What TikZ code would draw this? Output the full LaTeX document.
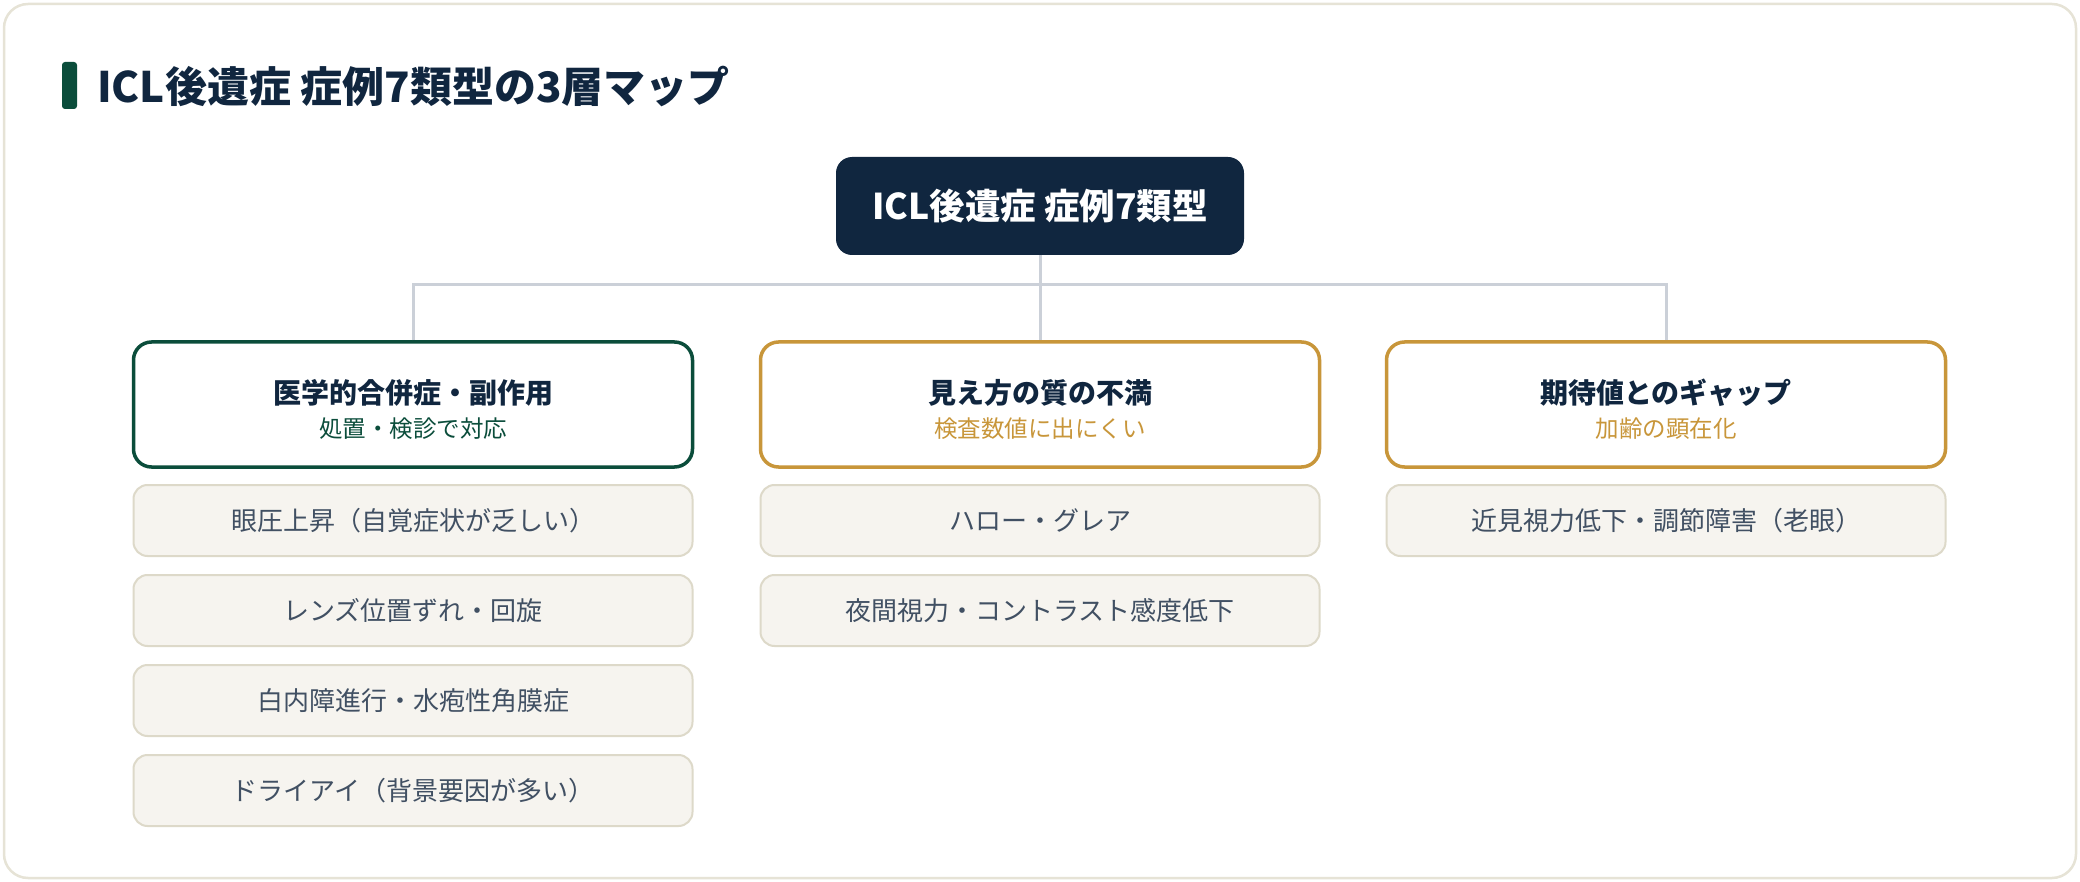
\documentclass[tikz,border=0pt]{standalone}
\usepackage{fontspec}
\setmainfont{Noto Sans CJK JP}
\definecolor{navy}{HTML}{10263F}
\definecolor{dgreen}{HTML}{0B4D3B}
\definecolor{gold}{HTML}{C8963A}
\definecolor{linegray}{HTML}{CBD0D8}
\definecolor{itemfill}{HTML}{F6F4EF}
\definecolor{itemdraw}{HTML}{DDD9C9}
\definecolor{itemtext}{HTML}{415063}
\definecolor{frame}{HTML}{E6E3D6}
\tikzset{
  rootbox/.style={draw=none, fill=navy, rounded corners=16pt, minimum width=408pt, minimum height=98pt, inner sep=0pt,
    text=white, font=\fontsize{35.5}{42}\selectfont\bfseries},
  catbox/.style={fill=white, line width=3.5pt, rounded corners=18pt, minimum width=559pt, minimum height=125pt,
    inner sep=0pt, align=center},
  itembox/.style={fill=itemfill, draw=itemdraw, line width=2pt, rounded corners=14pt, minimum width=559pt,
    minimum height=71pt, inner sep=0pt, text=itemtext, font=\fontsize{26}{30}\selectfont},
  conn/.style={draw=linegray, line width=3pt},
}
\newcommand{\cattext}[3]{{\fontsize{28}{36}\selectfont\bfseries\color{navy}\rule{0pt}{34pt}#1}\\[11pt]{\fontsize{23.5}{28}\selectfont\color{#3}#2}}
\begin{document}
\begin{tikzpicture}[x=1pt,y=-1pt]
\useasboundingbox (0,0) rectangle (2080,882);
\draw[frame, fill=white, line width=2.5pt, rounded corners=24pt] (4,4) rectangle (2076,878);
% title
\fill[dgreen, rounded corners=3pt] (62,62) rectangle (77,109);
\node[anchor=west, inner sep=0pt, text=navy, font=\fontsize{42}{50}\selectfont\bfseries] (title) at (97,87) {ICL後遺症 症例7類型の3層マップ};
% root
\node[rootbox] (root) at (1040,206) {ICL後遺症 症例7類型};
% categories
\node[catbox, draw=dgreen] (c1) at (413,404.5) {\cattext{医学的合併症・副作用}{処置・検診で対応}{dgreen}};
\node[catbox, draw=gold] (c2) at (1040,404.5) {\cattext{見え方の質の不満}{検査数値に出にくい}{gold}};
\node[catbox, draw=gold] (c3) at (1666,404.5) {\cattext{期待値とのギャップ}{加齢の顕在化}{gold}};
% connectors
\coordinate (hub) at (1040,285);
\draw[conn] (root.south) -- (hub) -- (c2.north);
\draw[conn] (c1.north) |- (hub) -| (c3.north);
% items
\node[itembox] (a1) at (413,520.5) {眼圧上昇（自覚症状が乏しい）};
\node[itembox] (a2) at (413,610.5) {レンズ位置ずれ・回旋};
\node[itembox] (a3) at (413,700.5) {白内障進行・水疱性角膜症};
\node[itembox] (a4) at (413,790.5) {ドライアイ（背景要因が多い）};
\node[itembox] (b1) at (1040,520.5) {ハロー・グレア};
\node[itembox] (b2) at (1040,610.5) {夜間視力・コントラスト感度低下};
\node[itembox] (d1) at (1666,520.5) {近見視力低下・調節障害（老眼）};
\end{tikzpicture}
\end{document}
